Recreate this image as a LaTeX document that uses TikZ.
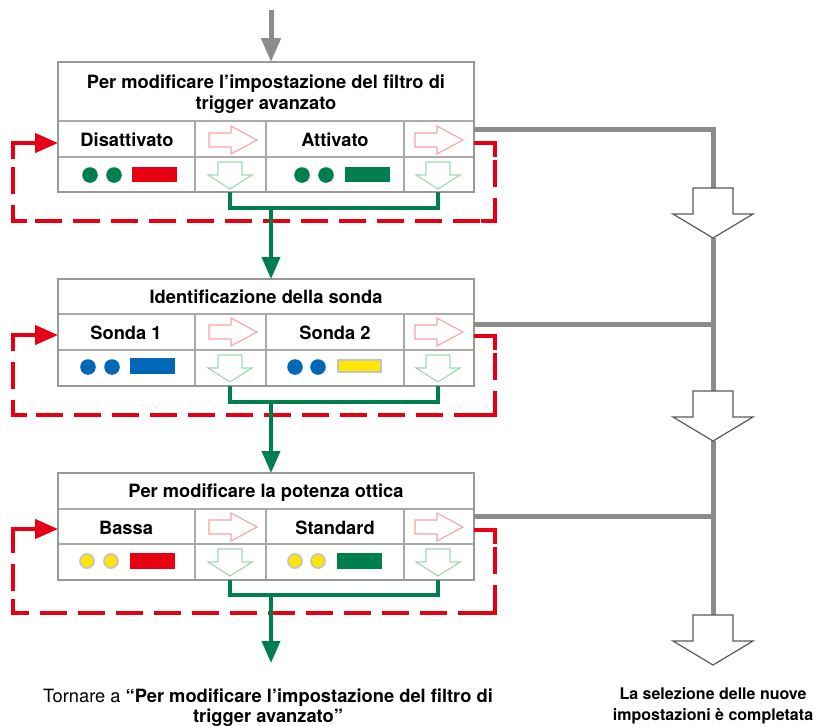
\documentclass[tikz,border=0pt]{standalone}
\usepackage{fontspec}
\setmainfont{TeX Gyre Heros}
\usetikzlibrary{arrows.meta}

\definecolor{sigred}{HTML}{E60012}
\definecolor{siggreen}{HTML}{007F4E}
\definecolor{sigblue}{HTML}{0068B7}
\definecolor{sigyellow}{HTML}{FFE600}
\definecolor{flowgray}{HTML}{8C8C8C}
\definecolor{framegray}{HTML}{999999}
\definecolor{gridgray}{HTML}{AAAAAA}
\definecolor{pinkline}{HTML}{F2A3A3}
\definecolor{mintline}{HTML}{9FD9B4}
\definecolor{dotrim}{HTML}{C4C4C4}
\definecolor{outline}{HTML}{5A5A5A}

\tikzset{
  frame/.style={draw=framegray, line width=2.4},
  grid/.style={draw=gridgray, line width=1.4},
  flow/.style={draw=flowgray, line width=5},
  greenflow/.style={draw=siggreen, line width=4},
  redloop/.style={draw=sigred, line width=4, dash pattern=on 27pt off 11pt},
  redsolid/.style={draw=sigred, line width=4, line join=miter},
  celltext/.style={font=\bfseries\fontsize{18.3}{21}\selectfont, anchor=base, inner sep=0pt},
  notetext/.style={font=\fontsize{18.3}{20}\selectfont, anchor=base, align=center, inner sep=0pt},
  donetext/.style={font=\bfseries\fontsize{16}{21}\selectfont, anchor=base, align=center, inner sep=0pt},
  greentip/.style={-{Triangle[length=22pt,width=18pt]}},
  redtip/.style={-{Triangle[length=23pt,width=19pt]}},
  % hollow right arrow inside a cell
  rarrow/.pic={\draw[pinkline, line width=1.1] (-24,-7) -- (-2,-7) -- (-2,-14) -- (24,0) -- (-2,14) -- (-2,7) -- (-24,7) -- cycle;},
  % hollow down arrow inside a cell
  darrow/.pic={\draw[mintline, line width=1.1] (-12,-13) -- (12,-13) -- (12,0) -- (22,0) -- (0,14) -- (-22,0) -- (-12,0) -- cycle;},
  % large hollow arrow on the completion line
  bigdown/.pic={\filldraw[fill=white, draw=outline, line width=1.2] (-20,0) -- (20,0) -- (20,26) -- (40,26) -- (0,50) -- (-40,26) -- (-20,26) -- cycle;},
}

% frame of one setting block: top, row 2 top, row 3 top, bottom
\newcommand\blockframe[4]{%
  \draw[grid] (58,#2) -- (474,#2) (58,#3) -- (474,#3);
  \draw[grid] (195,#2) -- (195,#4) (266,#2) -- (266,#4) (404,#2) -- (404,#4);
  \draw[frame] (58,#1) rectangle (474,#4);
}
% the two hollow arrows in columns 2 and 4: row 2 centre, row 3 centre
\newcommand\cellarrows[2]{%
  \pic at (233,#1) {rarrow};
  \pic at (439,#1) {rarrow};
  \pic at (230,#2) {darrow};
  \pic at (438,#2) {darrow};
}
% dashed return loop: leaving point, its y, bottom y, entry y, entry point
\newcommand\returnloop[5]{%
  \draw[redloop] (#1) -- (495,#2) -- (495,#3) -- (13,#3) -- (13,#4);
  \draw[redsolid] (481,#2) -- (495,#2) -- (495,#2+14);
  \draw[redsolid] (495,#3-14) -- (495,#3) -- (481,#3);
  \draw[redsolid] (27,#3) -- (13,#3) -- (13,#3-14);
  \draw[redsolid, redtip] (13,#4+16) -- (13,#4) -- (#5);
}

\begin{document}
\begin{tikzpicture}[x=1pt, y=-1pt]
\useasboundingbox (0,0) rectangle (831,726);

% ---------- block 1: advanced trigger filter ----------
\blockframe{62}{121}{157}{192}
% multi-line nodes: the base anchor sits on the last line
\node[celltext, align=center] (t1) at (266,109) {Per modificare l’impostazione del filtro di\\trigger avanzato};
\node[celltext] (c1a) at (127,146) {Disattivato};
\node[celltext] (c1b) at (335,146) {Attivato};
\cellarrows{140}{175}
\fill[siggreen] (90,175) circle[radius=7.8] (114,175) circle[radius=7.8];
\fill[sigred] (132,167) rectangle (177,182);
\fill[siggreen] (302,175) circle[radius=7.8] (326,175) circle[radius=7.8];
\fill[siggreen] (345,167) rectangle (390,182);

% ---------- block 2: probe identification ----------
\blockframe{279}{314}{350}{386}
\node[celltext] (t2) at (266,303) {Identificazione della sonda};
\node[celltext] (c2a) at (126,339) {Sonda 1};
\node[celltext] (c2b) at (335,339) {Sonda 2};
\cellarrows{332}{368}
\fill[sigblue] (88,367) circle[radius=7.8] (112,367) circle[radius=7.8];
\fill[sigblue] (130,358) rectangle (175,374);
\fill[sigblue] (295,367) circle[radius=7.8] (318,367) circle[radius=7.8];
\filldraw[fill=sigyellow, draw=dotrim, line width=2] (338,360) rectangle (381,372);

% ---------- block 3: optical power ----------
\blockframe{473}{509}{544}{580}
\node[celltext] (t3) at (266,497) {Per modificare la potenza ottica};
\node[celltext] (c3a) at (126,534) {Bassa};
\node[celltext] (c3b) at (335,534) {Standard};
\cellarrows{527}{562}
\filldraw[fill=sigyellow, draw=dotrim, line width=1.8] (87,561) circle[radius=7] (111,561) circle[radius=7];
\fill[sigred] (130,553) rectangle (175,569);
\filldraw[fill=sigyellow, draw=dotrim, line width=1.8] (295,561) circle[radius=7] (318,561) circle[radius=7];
\fill[siggreen] (337,553) rectangle (382,569);

% ---------- connector end points ----------
\coordinate (entry) at (271,10);
\coordinate (b1top) at (271,62);
\coordinate (b2top) at (271,279);
\coordinate (b3top) at (271,473);
\coordinate (back) at (271,663);
\coordinate (b1in) at (58,143);  \coordinate (b1out) at (474,143);
\coordinate (b2in) at (58,335);  \coordinate (b2out) at (474,336);
\coordinate (b3in) at (58,529);  \coordinate (b3out) at (474,530);
\coordinate (g1) at (474,129);   \coordinate (g2) at (474,324);   \coordinate (g3) at (474,516);
\coordinate (s1) at (713,188);   \coordinate (s2) at (713,391);   \coordinate (s3) at (713,615);
\coordinate (e1) at (713,238);   \coordinate (e2) at (713,441);

% ---------- red dashed loops back to the first option ----------
\returnloop{b1out}{143}{221}{143}{b1in}
\returnloop{b2out}{336}{415}{335}{b2in}
\returnloop{b3out}{530}{613}{529}{b3in}

% ---------- green confirmation connectors ----------
\draw[greenflow] (230,192) -- (230,208) -- (438,208) -- (438,192);
\draw[greenflow, greentip] (271,208) -- (b2top);
\draw[greenflow] (230,386) -- (230,402) -- (438,402) -- (438,386);
\draw[greenflow, greentip] (271,402) -- (b3top);
\draw[greenflow] (230,580) -- (230,595) -- (438,595) -- (438,580);
\draw[greenflow, greentip] (271,595) -- (back);

% ---------- gray entry and completion line ----------
\draw[flow, -{Triangle[length=24pt,width=19pt]}] (entry) -- (b1top);
\draw[flow] (g1) -- (713,129) -- (s1);
\draw[flow] (e1) -- (s2);
\draw[flow] (g2) -- (713,324);
\draw[flow] (e2) -- (s3);
\draw[flow] (g3) -- (713,516);
\pic at (s1) {bigdown};
\pic at (s2) {bigdown};
\pic at (s3) {bigdown};

% ---------- captions ----------
\node[notetext] (backnote) at (268,722) {Tornare a {\bfseries “Per modificare l’impostazione del filtro di}\\{\bfseries trigger avanzato”}};
\node[donetext] (donenote) at (713,720) {La selezione delle nuove\\impostazioni è completata};
\end{tikzpicture}
\end{document}
